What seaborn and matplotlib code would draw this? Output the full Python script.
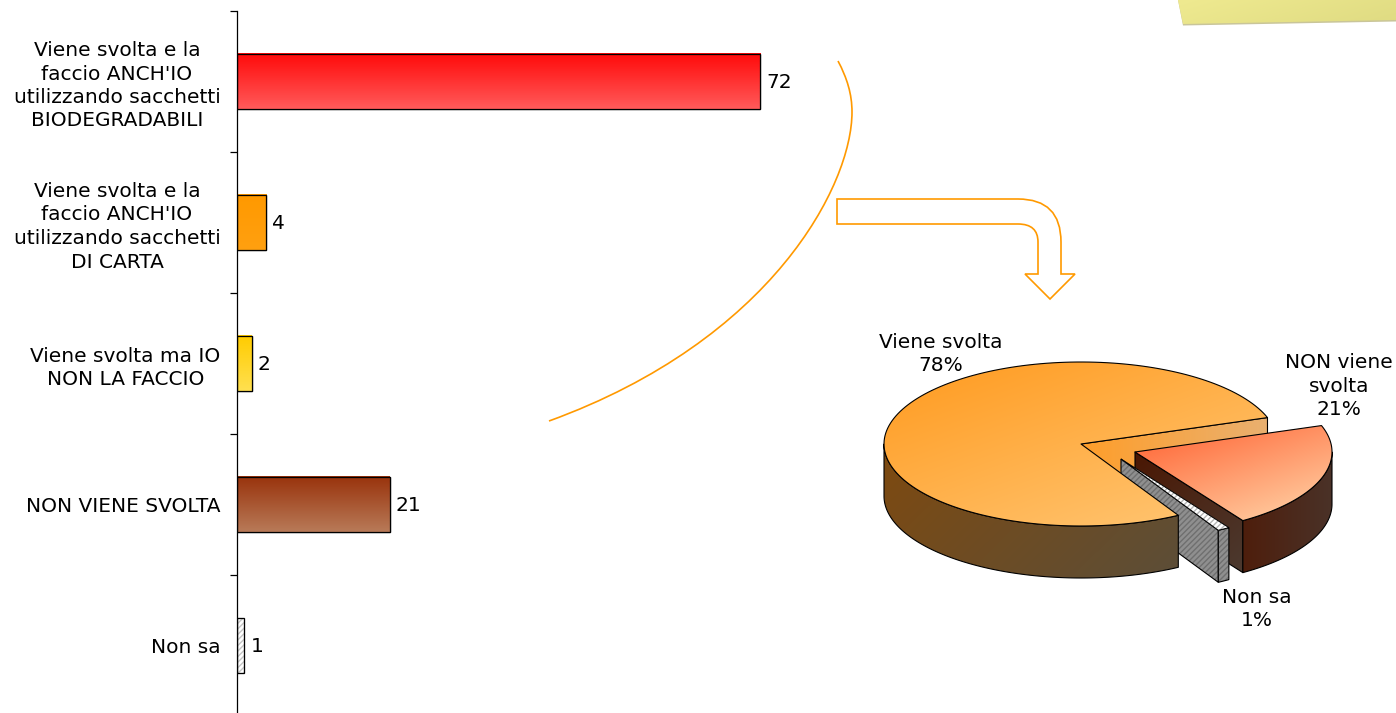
import numpy as np
import pandas as pd
import matplotlib
matplotlib.use("Agg")
import matplotlib.pyplot as plt
import seaborn as sns
from matplotlib.path import Path
from matplotlib.patches import PathPatch, Rectangle
from matplotlib.colors import to_rgb

categories = ["Viene svolta e la\nfaccio ANCH'IO\nutilizzando sacchetti\nBIODEGRADABILI",
              "Viene svolta e la\nfaccio ANCH'IO\nutilizzando sacchetti\nDI CARTA",
              "Viene svolta ma IO\nNON LA FACCIO",
              "NON VIENE SVOLTA",
              "Non sa"]
values = [72, 4, 2, 21, 1]
bar_top = ["#FF0A0A", "#FF9900", "#FFCC00", "#99330C", "#FFFFFF"]
bar_bottom = ["#FF5A5A", "#FFA010", "#FFE050", "#B87A58", "#FFFFFF"]

pie_labels = ["Viene svolta", "NON viene\nsvolta", "Non sa"]
pie_values = [78, 21, 1]

W, H = 1396, 713
FS = 14.5
LS = 1.3
sns.set_theme(style="white")
plt.rcParams["font.family"] = ["DejaVu Sans"]
plt.rcParams["hatch.linewidth"] = 1.0
fig = plt.figure(figsize=(W / 100, H / 100), dpi=100, facecolor="white")

# ---------- bar chart ----------
ax = fig.add_axes([237 / W, (H - 716) / H, (W - 237) / W, 705 / H])
df = pd.DataFrame({"cat": categories, "val": values})
sns.barplot(data=df, y="cat", x="val", hue="cat", palette=bar_top, orient="h",
            width=0.395, edgecolor="black", linewidth=0.9, legend=False, ax=ax)
ax.set_xlim(0, (W - 237) / 7.265)
ax.set_ylim(4.5, -0.5)
ax.set_xlabel("")
ax.set_ylabel("")
ax.xaxis.set_visible(False)
sns.despine(ax=ax, top=True, right=True, bottom=True)
ax.spines["left"].set_color("black")
ax.spines["left"].set_linewidth(0.9)
ax.set_yticks(range(len(categories)))
ax.set_yticklabels(categories, fontsize=FS, color="black", linespacing=LS, multialignment="center")
ax.tick_params(axis="y", which="major", length=0, pad=12)
ax.set_yticks(np.arange(-0.5, len(categories)), minor=True)
ax.tick_params(axis="y", which="minor", left=True, length=5, width=0.9, color="black")
ax.patch.set_alpha(0)

for i, (c, bar) in enumerate(zip(ax.containers, [cc[0] for cc in ax.containers])):
    anns = ax.bar_label(c, labels=[str(values[i])], padding=4.5, fontsize=FS, color="black")
    for ann in anns:
        ann.xyann = (4.5, -1)
    x0, y0, w, h = bar.get_x(), bar.get_y(), bar.get_width(), bar.get_height()
    if i == 4:
        bar.set_hatch("//////")
        bar.set_edgecolor("#c4c4c4")
        ax.add_patch(Rectangle((x0, y0), w, h, fill=False, edgecolor="black", linewidth=0.9, zorder=5))
    else:
        t = np.linspace(0, 1, 64)[:, None, None]
        img = (1 - t) * np.array(to_rgb(bar_top[i]))[None, None, :] + t * np.array(to_rgb(bar_bottom[i]))[None, None, :]
        ax.imshow(img, extent=(x0, x0 + w, y0 + h, y0), origin="upper", aspect="auto", zorder=bar.get_zorder() + 0.1)
        ax.add_patch(Rectangle((x0, y0), w, h, fill=False, edgecolor="black", linewidth=0.9, zorder=5))
ax.set_xlim(0, (W - 237) / 7.265)
ax.set_ylim(4.5, -0.5)

# ---------- overlay in pixel space ----------
ov = fig.add_axes([0, 0, 1, 1])
ov.set_xlim(0, W)
ov.set_ylim(H, 0)
ov.axis("off")
ov.patch.set_alpha(0)

z = [10]
def nz():
    z[0] += 1
    return z[0]

def grad(verts, c0, c1, angle=45, edge="black", lw=0.8):
    """Fill a polygon with a linear gradient clipped to its outline."""
    verts = np.asarray(verts)
    path = Path(np.vstack([verts, verts[0]]), closed=True)
    xa, ya = verts.min(0)
    xb, yb = verts.max(0)
    n = 200
    xx, yy = np.meshgrid(np.linspace(0, 1, n), np.linspace(0, 1, n))
    a = np.deg2rad(angle)
    s = xx * np.cos(a) + yy * np.sin(a)
    s = (s - s.min()) / (s.max() - s.min())
    img = (1 - s[..., None]) * np.array(to_rgb(c0)) + s[..., None] * np.array(to_rgb(c1))
    zo = nz()
    im = ov.imshow(img, extent=(xa, xb, yb, ya), origin="upper", aspect="auto", zorder=zo, interpolation="bilinear")
    clip = PathPatch(path, transform=ov.transData, facecolor="none", edgecolor="none")
    ov.add_patch(clip)
    im.set_clip_path(clip)
    if edge != "none":
        ov.add_patch(PathPatch(path, facecolor="none", edgecolor=edge, linewidth=lw, zorder=zo + 0.5, joinstyle="round"))

def hatched(verts, face, hatch_col, lw=0.8, hatch="//////"):
    verts = np.asarray(verts)
    path = Path(np.vstack([verts, verts[0]]), closed=True)
    zo = nz()
    ov.add_patch(PathPatch(path, facecolor=face, edgecolor=hatch_col, hatch=hatch, linewidth=0, zorder=zo))
    ov.add_patch(PathPatch(path, facecolor="none", edgecolor="black", linewidth=lw, zorder=zo + 0.5))

# sticky note in the top right corner
ov.fill([1178, 1183, 1396, 1396], [0, 25.5, 21.5, 19], color="#C9C59A", zorder=nz(), linewidth=0)
grad([(1178, 0), (1183, 24), (1396, 20), (1396, 0)], "#EFEA90", "#DFDB82", angle=20, edge="none")

# curved line
curve = Path([(838, 61), (847, 78), (852, 94), (852, 112), (852, 185), (772, 340), (549, 421)],
             [Path.MOVETO] + [Path.CURVE4] * 6)
ov.add_patch(PathPatch(curve, facecolor="none", edgecolor="#FF9900", linewidth=1.2, zorder=nz()))

# bent arrow
arrow = Path([(837, 199), (1018, 199), (1061, 199), (1061, 242), (1061, 274), (1075, 274), (1050, 299),
              (1025, 274), (1038, 274), (1038, 242), (1038, 224), (1018, 224), (837, 224), (837, 199)],
             [Path.MOVETO, Path.LINETO, Path.CURVE3, Path.CURVE3, Path.LINETO, Path.LINETO, Path.LINETO,
              Path.LINETO, Path.LINETO, Path.LINETO, Path.CURVE3, Path.CURVE3, Path.LINETO, Path.CLOSEPOLY])
ov.add_patch(PathPatch(arrow, facecolor="none", edgecolor="#FF9900", linewidth=1.2, zorder=nz()))

# ---------- 3D pie, angles derived from the values ----------
RX, RY, DEPTH = 197.0, 82.0, 52.0
start = 18.8
shares = np.array(pie_values) / sum(pie_values) * 360
a_main = (start, start + shares[0])            # ccw from start
a_big = (start - shares[1], start)             # next slices run clockwise from start
a_small = (a_big[0] - shares[2], a_big[0])
c_main, c_big, c_small = (1081, 444), (1135, 452), (1121, 459)

def pt(c, deg, dy=0.0):
    t = np.deg2rad(deg)
    return np.column_stack([c[0] + RX * np.cos(t), c[1] - RY * np.sin(t) + dy])

def arc(c, a, b, dy=0.0, n=160):
    return pt(c, np.linspace(a, b, n), dy)

def top(c, a, b):
    return np.vstack([[c], arc(c, a, b)])

def side(c, a, b):
    return np.vstack([arc(c, a, b), arc(c, a, b, DEPTH)[::-1]])

def face(c, deg):
    p = pt(c, np.array([deg]))[0]
    return [c, p, (p[0], p[1] + DEPTH), (c[0], c[1] + DEPTH)]

# cut face of the main slice, seen behind the exploded slices
grad(face(c_main, a_main[0]), "#FF9E2A", "#E9B070", angle=0)
# large exploded slice
grad(face(c_big, a_big[0]), "#4A1703", "#4C3A30", angle=50)
grad(side(c_big, a_big[0], 0), "#4E1E0C", "#4A3228", angle=0)
grad(top(c_big, a_big[0], a_big[1]), "#FF5E2E", "#FFD8AC", angle=55)
# small exploded slice
hatched(face(c_small, a_small[0]), "#8F8F8F", "#6F6F6F")
hatched(side(c_small, a_small[0], a_small[1]), "#8F8F8F", "#6F6F6F")
hatched(top(c_small, a_small[0], a_small[1]), "#FFFFFF", "#B5B5B5", lw=0.7)
# main slice
grad(side(c_main, 180, a_main[1]), "#7E4A10", "#5C4E38", angle=25)
grad(top(c_main, a_main[0], a_main[1]), "#FF9A1E", "#FFC878", angle=50)

def lab(x, y, s):
    ov.text(x, y, s, fontsize=FS, color="black", ha="center", va="center", linespacing=LS, zorder=100)

lab(941, 354, f"{pie_labels[0]}\n{pie_values[0]}%")
lab(1339, 386, f"{pie_labels[1]}\n{pie_values[1]}%")
lab(1257, 609, f"{pie_labels[2]}\n{pie_values[2]}%")

fig.savefig("out.png", dpi=100, facecolor="white")
